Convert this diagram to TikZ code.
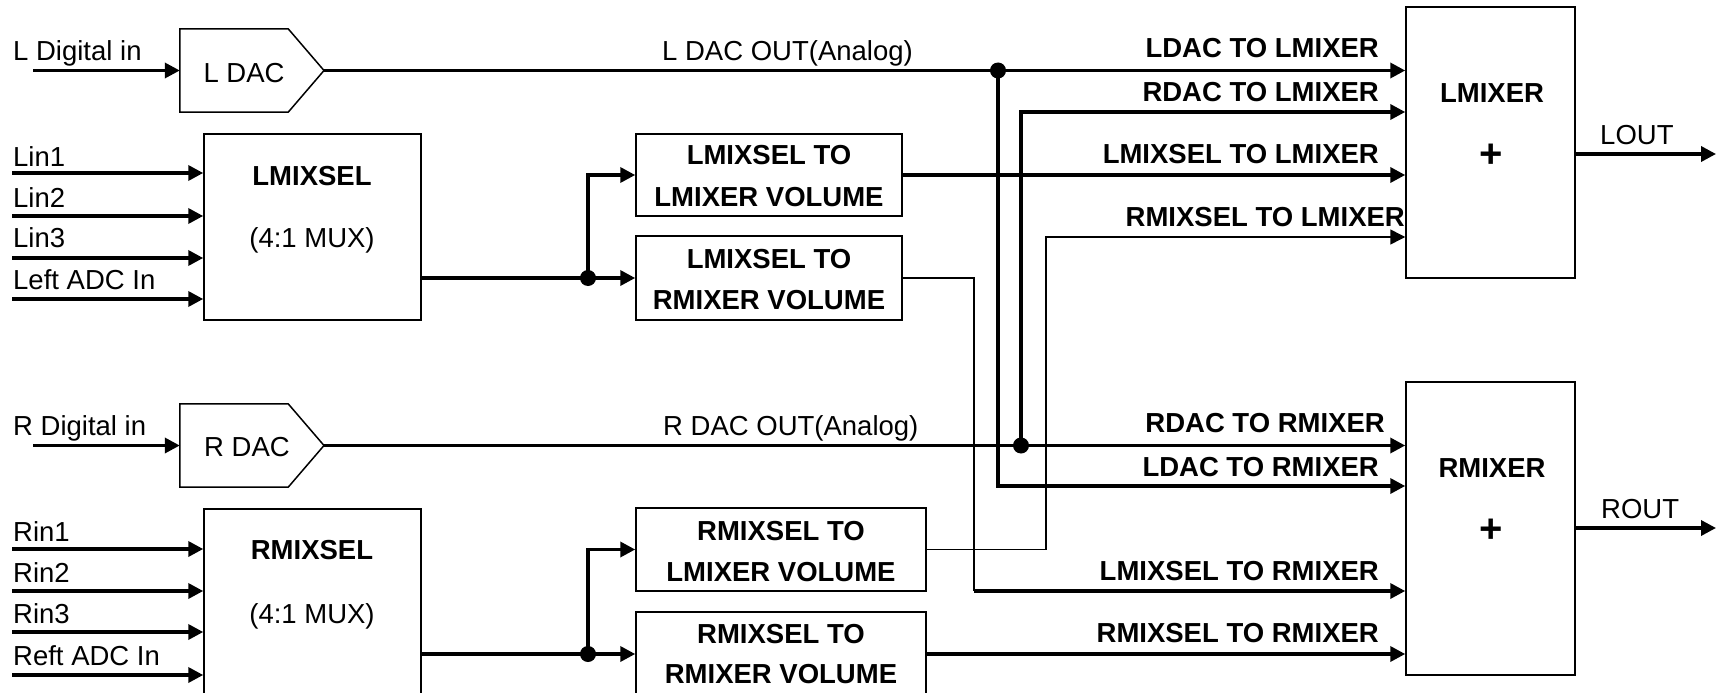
\documentclass[tikz,border=0pt]{standalone}
\usepackage{fontspec}
\setmainfont{Liberation Sans}
\usetikzlibrary{arrows.meta}
\begin{document}
\begin{tikzpicture}[x=1pt,y=-1pt,
  font=\fontsize{27.5}{32}\selectfont,
  box/.style={draw,line width=1.5pt,rectangle,inner sep=0pt},
  dacbox/.style={rectangle,inner sep=0pt,minimum width=108pt,minimum height=83pt},
  thk/.style={line width=3.5pt},
  thn/.style={line width=1.5pt},
  tip/.style={-{Triangle[length=15pt,width=15pt]}},
  lbl/.style={inner sep=0pt},
  blbl/.style={inner sep=0pt,font=\fontsize{27.5}{32}\selectfont\bfseries},
  plus/.style={inner sep=0pt,font=\fontsize{40}{44}\selectfont\bfseries},
  dot/.style={circle,fill,inner sep=0pt,minimum size=16pt},
]
\useasboundingbox (0,0) rectangle (1716,693);
\clip (0,0) rectangle (1716,693);

% ---------- blocks ----------
\node[dacbox] (ldac) at (234,70.5) {};
\draw[line width=1.5pt] (ldac.north west) -- (ldac.north east) -- (324,70.5) -- (ldac.south east) -- (ldac.south west) -- cycle;
\coordinate (ldacout) at (324,70.5);
\node[lbl,anchor=base] (tldac) at (244,82) {L DAC};

\node[dacbox] (rdac) at (234,445.5) {};
\draw[line width=1.5pt] (rdac.north west) -- (rdac.north east) -- (324,445.5) -- (rdac.south east) -- (rdac.south west) -- cycle;
\coordinate (rdacout) at (324,445.5);
\node[lbl,anchor=base] (trdac) at (247,456) {R DAC};

\node[box,minimum width=217pt,minimum height=186pt] (lmixsel) at (312.5,227) {};
\node[blbl,anchor=base] (tlms) at (312,185) {LMIXSEL};
\node[lbl,anchor=base] (tlmux) at (312,247) {(4:1 MUX)};

\node[box,minimum width=217pt,minimum height=186pt] (rmixsel) at (312.5,602) {};
\node[blbl,anchor=base] (trms) at (312,559) {RMIXSEL};
\node[lbl,anchor=base] (trmux) at (312,623) {(4:1 MUX)};

\node[box,minimum width=266pt,minimum height=82pt] (lsl) at (769,175) {};
\node[blbl,anchor=base] (tlsl1) at (769,164) {LMIXSEL TO};
\node[blbl,anchor=base] (tlsl2) at (769,206) {LMIXER VOLUME};

\node[box,minimum width=266pt,minimum height=84pt] (lsr) at (769,278) {};
\node[blbl,anchor=base] (tlsr1) at (769,268) {LMIXSEL TO};
\node[blbl,anchor=base] (tlsr2) at (769,309) {RMIXER VOLUME};

\node[box,minimum width=290pt,minimum height=83pt] (rsl) at (781,549.5) {};
\node[blbl,anchor=base] (trsl1) at (781,540) {RMIXSEL TO};
\node[blbl,anchor=base] (trsl2) at (781,581) {LMIXER VOLUME};

\node[box,minimum width=290pt,minimum height=84pt] (rsr) at (781,654) {};
\node[blbl,anchor=base] (trsr1) at (781,643) {RMIXSEL TO};
\node[blbl,anchor=base] (trsr2) at (781,683) {RMIXER VOLUME};

\node[box,minimum width=169pt,minimum height=271pt] (lmixer) at (1490.5,142.5) {};
\node[blbl,anchor=base] (tlmx) at (1492,102) {LMIXER};
\node[plus] (plusl) at (1491,156) {+};

\node[box,minimum width=169pt,minimum height=293pt] (rmixer) at (1490.5,528.5) {};
\node[blbl,anchor=base] (trmx) at (1492,477) {RMIXER};
\node[plus] (plusr) at (1491,531) {+};

% ---------- inputs ----------
\coordinate (ldin) at (33,70.5);
\coordinate (rdin) at (33,445.5);
\node[lbl,anchor=base west] (tldin) at (13,60) {L Digital in};
\node[lbl,anchor=base west] (trdin) at (13,435) {R Digital in};
\draw[thk,tip] (ldin) -- (ldac.west);
\draw[thk,tip] (rdin) -- (rdac.west);

\coordinate (lin1) at (12,173);
\coordinate (lin2) at (12,216);
\coordinate (lin3) at (12,258);
\coordinate (lin4) at (12,299);
\coordinate (rin1) at (12,549);
\coordinate (rin2) at (12,591);
\coordinate (rin3) at (12,632);
\coordinate (rin4) at (12,675);
\foreach \c in {lin1,lin2,lin3,lin4}{\draw[thk,tip] (\c) -- (\c -| lmixsel.west);}
\foreach \c in {rin1,rin2,rin3,rin4}{\draw[thk,tip] (\c) -- (\c -| rmixsel.west);}
\node[lbl,anchor=base west] (tlin1) at (13,166) {Lin1};
\node[lbl,anchor=base west] (tlin2) at (13,207) {Lin2};
\node[lbl,anchor=base west] (tlin3) at (13,247) {Lin3};
\node[lbl,anchor=base west] (tlin4) at (13,289) {Left ADC In};
\node[lbl,anchor=base west] (trin1) at (13,541) {Rin1};
\node[lbl,anchor=base west] (trin2) at (13,582) {Rin2};
\node[lbl,anchor=base west] (trin3) at (13,623) {Rin3};
\node[lbl,anchor=base west] (trin4) at (13,665) {Reft ADC In};

% ---------- MIXSEL splits ----------
\node[dot] (jl) at (588,278) {};
\draw[thk] (lmixsel.east |- jl) -- (jl.center);
\draw[thk,tip] (jl.center) -- (lsr.west);
\draw[thk,tip] (jl.center) -- (jl.center |- lsl.west) -- (lsl.west);

\node[dot] (jr) at (588,654) {};
\draw[thk] (rmixsel.east |- jr) -- (jr.center);
\draw[thk,tip] (jr.center) -- (rsr.west);
\draw[thk,tip] (jr.center) -- (jr.center |- rsl.west) -- (rsl.west);

% ---------- DAC outputs ----------
\coordinate (yL2) at (0,112);
\coordinate (yL4) at (0,237);
\coordinate (yR2) at (0,486);
\coordinate (yR3) at (0,591);

\node[dot] (dl) at (998,70.5) {};
\draw[thk] (ldacout) -- (dl.center);
\draw[thk,tip] (dl.center) -- (dl.center -| lmixer.west);
\draw[thk,tip] (dl.center) -- (dl.center |- yR2) -- (rmixer.west |- yR2);
\node[lbl,anchor=base west] (tldo) at (662,60) {L DAC OUT(Analog)};

\node[dot] (dr) at (1021,445.5) {};
\draw[thk] (rdacout) -- (dr.center);
\draw[thk,tip] (dr.center) -- (dr.center -| rmixer.west);
\draw[thk,tip] (dr.center) -- (dr.center |- yL2) -- (lmixer.west |- yL2);
\node[lbl,anchor=base west] (trdo) at (663,435) {R DAC OUT(Analog)};

% ---------- volume outputs ----------
\draw[thk,tip] (lsl.east) -- (lmixer.west |- lsl.east);
\coordinate (k1) at (974,0);
\draw[thn] (lsr.east) -- (k1 |- lsr.east) -- (k1 |- yR3);
\draw[thk,tip] (k1 |- yR3) -- (rmixer.west |- yR3);
\coordinate (k2) at (1046,0);
\draw[thn,tip] (rsl.east) -- (k2 |- rsl.east) -- (k2 |- yL4) -- (lmixer.west |- yL4);
\draw[thk,tip] (rsr.east) -- (rmixer.west |- rsr.east);

% ---------- mixer input labels ----------
\node[blbl,anchor=base east] (a1) at (1379,58) {LDAC TO LMIXER};
\node[blbl,anchor=base east] (a2) at (1379,101) {RDAC TO LMIXER};
\node[blbl,anchor=base east] (a3) at (1379,163) {LMIXSEL TO LMIXER};
\node[blbl,anchor=base east] (a4) at (1405,226) {RMIXSEL TO LMIXER};
\node[blbl,anchor=base east] (b1) at (1385,432) {RDAC TO RMIXER};
\node[blbl,anchor=base east] (b2) at (1379,476) {LDAC TO RMIXER};
\node[blbl,anchor=base east] (b3) at (1379,580) {LMIXSEL TO RMIXER};
\node[blbl,anchor=base east] (b4) at (1379,642) {RMIXSEL TO RMIXER};

% ---------- outputs ----------
\coordinate (lout) at (1716,154);
\coordinate (rout) at (1716,528);
\draw[thk,tip] (lmixer.east |- lout) -- (lout);
\draw[thk,tip] (rmixer.east |- rout) -- (rout);
\node[lbl,anchor=base west] (tlout) at (1600,144) {LOUT};
\node[lbl,anchor=base west] (trout) at (1601,518) {ROUT};
\end{tikzpicture}
\end{document}
